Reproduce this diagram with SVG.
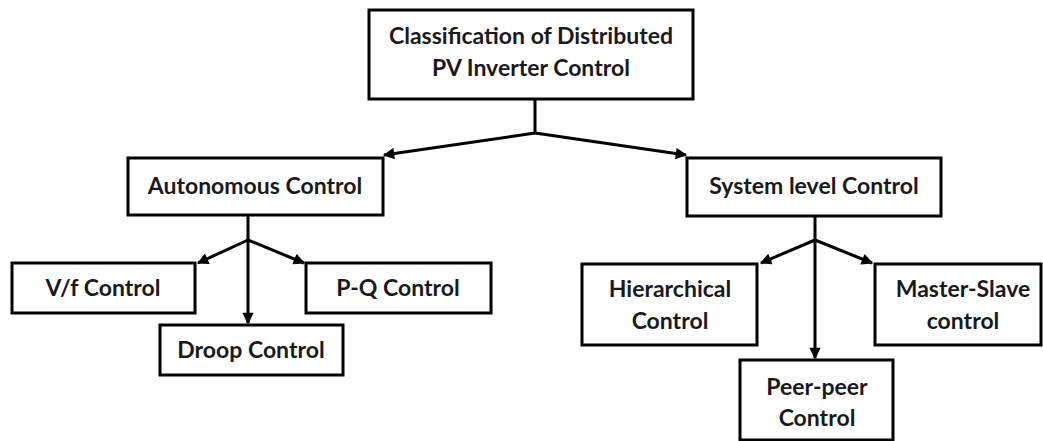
<svg xmlns="http://www.w3.org/2000/svg" width="1043" height="441" viewBox="0 0 1043 441">
  <style>
    .box { fill: #ffffff; stroke: #000000; stroke-width: 3; }
    .lbl { font-family: Lato, "Liberation Sans", sans-serif; font-weight: bold; font-size: 23px; fill: #1a1a1a; text-anchor: middle; }
    .wire { fill: none; stroke: #000000; stroke-width: 3; }
    .arrow { fill: none; stroke: #000000; stroke-width: 3; marker-end: url(#head); }
  </style>
  <defs>
    <marker id="head" viewBox="0 0 10 10" refX="9" refY="5" markerWidth="4.5" markerHeight="3.8" orient="auto" markerUnits="strokeWidth">
      <path d="M0,0 L10,5 L0,10 z" fill="#000000"/>
    </marker>
  </defs>
  <rect width="1043" height="441" fill="#ffffff"/>

  <g id="connectors">
    <!-- root to level 1 -->
    <path class="wire" d="M535,99 V133"/>
    <path class="arrow" d="M535,133 L384,155"/>
    <path class="arrow" d="M535,133 L686,155"/>
    <!-- autonomous branch -->
    <path class="wire" d="M248,215 V240"/>
    <path class="arrow" d="M248,240 L198,263"/>
    <path class="arrow" d="M248,240 V323"/>
    <path class="arrow" d="M248,240 L304,263"/>
    <!-- system level branch -->
    <path class="wire" d="M815,216 V240"/>
    <path class="arrow" d="M815,240 L761,263"/>
    <path class="arrow" d="M815,240 V358"/>
    <path class="arrow" d="M815,240 L872,263"/>
  </g>

  <g id="root">
    <rect class="box" x="369" y="10" width="324" height="89"/>
    <text class="lbl" x="531" y="44">Classification of Distributed</text>
    <text class="lbl" x="531" y="76">PV Inverter Control</text>
  </g>

  <g id="autonomous">
    <rect class="box" x="128" y="158" width="255" height="57"/>
    <text class="lbl" x="255" y="194">Autonomous Control</text>
  </g>

  <g id="system-level">
    <rect class="box" x="687" y="158" width="254" height="58"/>
    <text class="lbl" x="814" y="194">System level Control</text>
  </g>

  <g id="vf">
    <rect class="box" x="12" y="263" width="183" height="50"/>
    <text class="lbl" x="103" y="296">V/f Control</text>
  </g>

  <g id="droop">
    <rect class="box" x="160" y="325" width="183" height="50"/>
    <text class="lbl" x="251" y="358">Droop Control</text>
  </g>

  <g id="pq">
    <rect class="box" x="306" y="263" width="185" height="50"/>
    <text class="lbl" x="398" y="296">P-Q Control</text>
  </g>

  <g id="hierarchical">
    <rect class="box" x="582" y="264" width="175" height="81"/>
    <text class="lbl" x="670" y="297">Hierarchical</text>
    <text class="lbl" x="670" y="329">Control</text>
  </g>

  <g id="peer-peer">
    <rect class="box" x="740" y="360" width="153" height="80"/>
    <text class="lbl" x="817" y="395">Peer-peer</text>
    <text class="lbl" x="817" y="426">Control</text>
  </g>

  <g id="master-slave">
    <rect class="box" x="875" y="264" width="166" height="81"/>
    <text class="lbl" x="963" y="297">Master-Slave</text>
    <text class="lbl" x="963" y="329">control</text>
  </g>
</svg>
